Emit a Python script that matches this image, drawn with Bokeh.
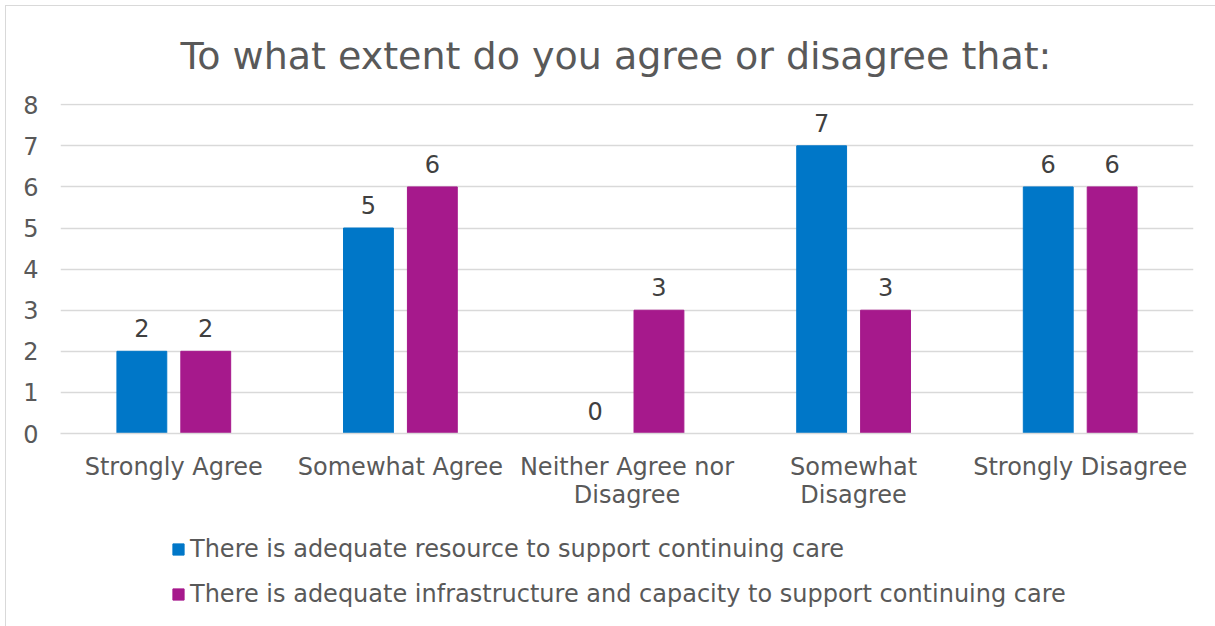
from bokeh.plotting import figure
from bokeh.models import ColumnDataSource, FactorRange, Legend, LegendItem, Range1d, FixedTicker
from bokeh.layouts import column
from bokeh.transform import dodge
from bokeh.embed import file_html
from bokeh.resources import INLINE
from bokeh.core.properties import value

# ---- data ----
categories = ["Strongly Agree", "Somewhat Agree", "Neither Agree nor\nDisagree",
              "Somewhat\nDisagree", "Strongly Disagree"]
resource = [2, 5, 0, 7, 6]
infrastructure = [2, 6, 3, 3, 6]
series_names = ["There is adequate resource to support continuing care",
                "There is adequate infrastructure and capacity to support continuing care"]
y_ticks = [0, 1, 2, 3, 4, 5, 6, 7, 8]
title_text = "To what extent do you agree or disagree that:"

FONT = "DejaVu Sans"
BLUE = "#0077C8"
PURPLE = "#A6198C"
GRID = "#D9D9D9"
TXT = "#595959"

src = ColumnDataSource(dict(
    cat=categories,
    resource=resource,
    infrastructure=infrastructure,
    resource_lbl=[str(v) for v in resource],
    infrastructure_lbl=[str(v) for v in infrastructure],
))

p = figure(frame_width=1133, frame_height=330, x_range=FactorRange(*categories),
           y_range=Range1d(0, 8.03), output_backend="svg", toolbar_location=None,
           min_border_left=54, min_border_right=22, min_border_top=97,
           min_border_bottom=83)

p.title.text = title_text
p.title.text_font = FONT
p.title.text_font_size = "38px"
p.title.text_font_style = "normal"
p.title.text_color = TXT
p.title.align = "left"
p.title.offset = 120
p.title.standoff = 51

p.outline_line_color = None
p.xgrid.grid_line_color = None
p.ygrid.grid_line_color = GRID
p.ygrid.grid_line_width = 1.5
p.yaxis.ticker = FixedTicker(ticks=y_ticks)

for ax in (p.xaxis[0], p.yaxis[0]):
    ax.axis_line_color = None
    ax.major_tick_line_color = None
    ax.minor_tick_line_color = None
    ax.major_label_text_font = FONT
    ax.major_label_text_font_size = "24px"
    ax.major_label_text_color = TXT
p.yaxis.major_label_standoff = 16
p.xaxis.major_label_standoff = 13
p.xaxis.major_label_text_line_height = 1.0
p.xaxis.axis_line_color = GRID
p.xaxis.axis_line_width = 1.5

W = 0.22
OFF = 0.141
p.vbar(x=dodge("cat", -OFF, range=p.x_range), top="resource", width=W, source=src,
       fill_color=BLUE, line_color=BLUE)
p.vbar(x=dodge("cat", OFF, range=p.x_range), top="infrastructure", width=W, source=src,
       fill_color=PURPLE, line_color=PURPLE)

for col, off in (("resource", -OFF), ("infrastructure", OFF)):
    p.text(x=dodge("cat", off, range=p.x_range), y=col, text=col + "_lbl", source=src,
           text_font=value(FONT), text_font_size="24px", text_color="#404040",
           text_align="center", text_baseline="alphabetic", y_offset=-23)

# ---- legend strip below the chart (same series, drawn outside its visible range) ----
lg = figure(width=1209, height=110, output_backend="svg", toolbar_location=None,
            x_range=FactorRange(*categories), y_range=Range1d(100, 101),
            x_axis_location=None, y_axis_location=None,
            min_border_left=0, min_border_right=0, min_border_top=0, min_border_bottom=0)
lg.outline_line_color = None
lg.grid.visible = False
k1 = lg.vbar(x="cat", top="resource", width=W, source=src, fill_color=BLUE, line_color=BLUE)
k2 = lg.vbar(x="cat", top="infrastructure", width=W, source=src,
             fill_color=PURPLE, line_color=PURPLE)

legend = Legend(items=[LegendItem(label=series_names[0], renderers=[k1]),
                       LegendItem(label=series_names[1], renderers=[k2])],
                location=(111, 18), orientation="vertical")
legend.border_line_color = None
legend.background_fill_alpha = 0
legend.padding = 0
legend.margin = 0
legend.glyph_width = 14
legend.glyph_height = 14
legend.label_standoff = 5
legend.spacing = 17
legend.label_text_font = FONT
legend.label_text_font_size = "24px"
legend.label_text_color = TXT
lg.add_layout(legend)

layout = column(p, lg, spacing=0,
                styles={"margin-left": "5px", "margin-top": "5px",
                        "border-left": "1px solid #D9D9D9", "border-top": "1px solid #D9D9D9"})

open("out.html", "w").write(file_html(layout, INLINE))
